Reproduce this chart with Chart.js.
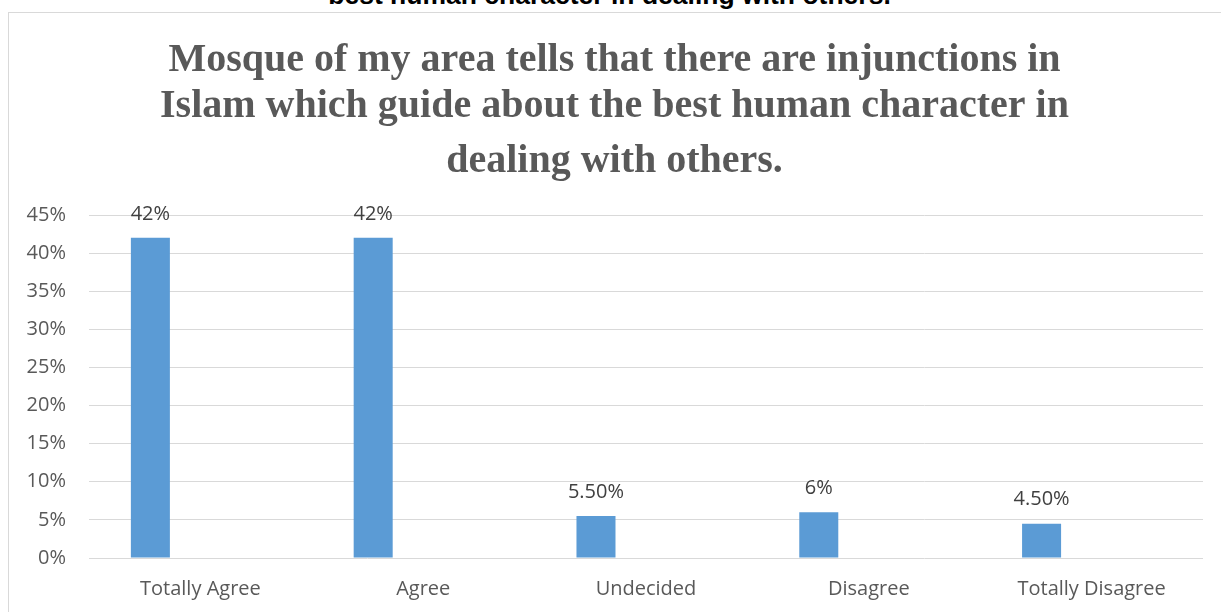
<!DOCTYPE html>
<html>
<head>
<meta charset="utf-8">
<script src="https://cdn.jsdelivr.net/npm/chart.js@4"></script>
<style>
  body { margin: 0; background: #fff; width: 1221px; height: 612px; overflow: hidden; position: relative; }
  #cut { position: absolute; left: 0; top: -18px; width: 1219px; text-align: center;
         font: bold 26.5px "Liberation Sans", Arial, sans-serif; line-height: 26.5px; color: #000; }
  #box { position: absolute; left: 8px; top: 12px; width: 1230px; height: 630px; border: 1px solid #d9d9d9; }
  #chart { position: absolute; left: 0; top: 0; }
</style>
</head>
<body>
<div id="cut">best human character in dealing with others.</div>
<div id="box"><canvas id="chart" width="1212" height="608"></canvas></div>
<script>
var categories = ['Totally Agree', 'Agree', 'Undecided', 'Disagree', 'Totally Disagree'];
var percentValues = [42, 42, 5.5, 6, 4.5];
var valueLabels = ['42%', '42%', '5.50%', '6%', '4.50%'];
// Excel left an empty second series, which pushes the bars to the left of each slot
var emptySeries = [null, null, null, null, null];
var yTicks = [0, 5, 10, 15, 20, 25, 30, 35, 40, 45];

var barLabels = {
  id: 'barLabels',
  afterDatasetsDraw(chart) {
    var ctx = chart.ctx;
    var meta = chart.getDatasetMeta(0);
    ctx.save();
    ctx.font = '20px "Open Sans"';
    ctx.fillStyle = '#404040';
    ctx.textAlign = 'center';
    ctx.textBaseline = 'middle';
    meta.data.forEach(function (bar, i) {
      ctx.fillText(valueLabels[i], bar.x, bar.y - 24);
    });
    ctx.restore();
  }
};

var ctx = document.getElementById('chart').getContext('2d');
var chart = new Chart(ctx, {
  type: 'bar',
  data: {
    labels: categories,
    datasets: [
      {
        label: 'Percent',
        data: percentValues,
        backgroundColor: '#5b9bd5',
        categoryPercentage: 0.898,
        barPercentage: 0.39
      },
      {
        label: '',
        data: emptySeries,
        backgroundColor: '#ed7d31',
        categoryPercentage: 0.898,
        barPercentage: 0.39
      }
    ]
  },
  options: {
    responsive: false,
    animation: false,
    layout: { padding: { left: 17, right: 18, top: 0, bottom: 9 } },
    plugins: {
      legend: { display: false },
      tooltip: { enabled: false },
      title: {
        display: true,
        text: ['Mosque of my area tells that there are injunctions in',
               'Islam which guide about the best human character in'],
        color: '#595959',
        font: { family: '"Liberation Serif", "Times New Roman", serif', size: 40, weight: 'bold', lineHeight: 1.15 },
        padding: { top: 25, bottom: 0 }
      },
      subtitle: {
        display: true,
        text: 'dealing with others.',
        color: '#595959',
        font: { family: '"Liberation Serif", "Times New Roman", serif', size: 40, weight: 'bold', lineHeight: 1.15 },
        padding: { top: 9, bottom: 30 }
      }
    },
    scales: {
      x: {
        grid: { display: false },
        border: { display: false },
        ticks: { color: '#595959', font: { family: '"Open Sans"', size: 20 }, padding: 11, maxRotation: 0 }
      },
      y: {
        min: 0,
        max: 45,
        afterBuildTicks(scale) {
          scale.ticks = yTicks.map(function (v) { return { value: v }; });
        },
        afterFit(scale) {
          scale.width = 63;
        },
        grid: { color: '#d9d9d9', lineWidth: 1, drawTicks: false },
        border: { display: false },
        ticks: {
          color: '#595959',
          font: { family: '"Open Sans"', size: 20 },
          padding: 23,
          callback: function (v) { return v + '%'; }
        }
      }
    }
  },
  plugins: [barLabels]
});
</script>
</body>
</html>
